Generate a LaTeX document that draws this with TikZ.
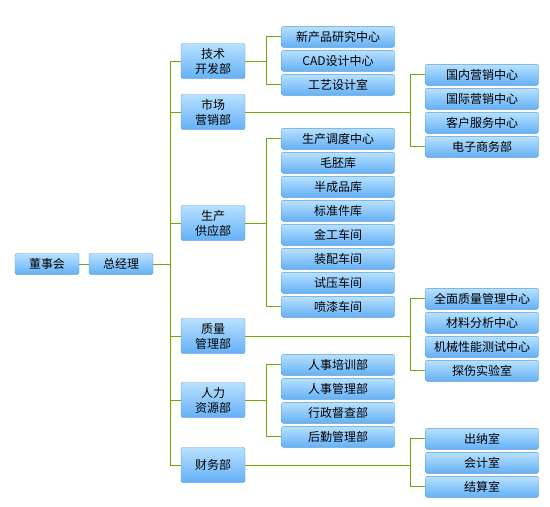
\documentclass[tikz,border=0pt]{standalone}
\usepackage{fontspec}
\newfontfamily\cjk{Noto Sans CJK SC}
\usepackage{tikz}
\usetikzlibrary{calc}
\usetikzlibrary{positioning}
\definecolor{boxtop}{HTML}{B8E1FF}
\definecolor{boxbot}{HTML}{63B0F6}
\definecolor{boxline}{HTML}{5A9BD5}
\definecolor{linkgreen}{HTML}{66B000}

\begin{document}
\begin{tikzpicture}
	[x=1pt, y=-1pt,
	box/.style = {draw=boxline, rounded corners=2pt, top color=boxtop, bottom color=boxbot, inner sep=0pt, align=center, minimum height=21pt, font=\cjk\fontsize{12}{15}\selectfont},
	top/.style = {box, minimum width=64pt},
	dept/.style = {box, minimum width=64pt, minimum height=35pt},
	unit/.style = {box, minimum width=113pt},
	link/.style = {draw=linkgreen, line width=1pt}
	]
	\useasboundingbox (0,0) rectangle (550,507);
	\coordinate (trunk) at (170,0);
	\coordinate (busA) at (266,0);
	\coordinate (busB) at (410,0);

	% left
	\node[top] (board) at (47,264) {董事会};
	\node[top] (gm) at (121,264) {总经理};

	% departments
	\node[dept] (tech) at (213,61) {技术\\开发部};
	\node[dept] (mkt) at (213,112) {市场\\营销部};
	\node[dept] (prod) at (213,223) {生产\\供应部};
	\node[dept] (qual) at (213,336) {质量\\管理部};
	\node[dept] (hr) at (213,400) {人力\\资源部};
	\node[dept] (fin) at (213,465) {财务部};

	% column A
	\node[unit] (t1) at (338,36.8) {新产品研究中心};
	\node[unit] (t2) at (338,60.8) {CAD设计中心};
	\node[unit] (t3) at (338,84.8) {工艺设计室};
	\node[unit] (p1) at (338,138.8) {生产调度中心};
	\node[unit] (p2) at (338,162.8) {毛胚库};
	\node[unit] (p3) at (338,186.8) {半成品库};
	\node[unit] (p4) at (338,210.8) {标准件库};
	\node[unit] (p5) at (338,234.8) {金工车间};
	\node[unit] (p6) at (338,258.8) {装配车间};
	\node[unit] (p7) at (338,282.8) {试压车间};
	\node[unit] (p8) at (338,306.8) {喷漆车间};
	\node[unit] (h1) at (338,364.8) {人事培训部};
	\node[unit] (h2) at (338,388.8) {人事管理部};
	\node[unit] (h3) at (338,412.8) {行政督查部};
	\node[unit] (h4) at (338,436.8) {后勤管理部};

	% column B
	\node[unit] (m1) at (482,74.8) {国内营销中心};
	\node[unit] (m2) at (482,98.8) {国际营销中心};
	\node[unit] (m3) at (482,122.8) {客户服务中心};
	\node[unit] (m4) at (482,146.8) {电子商务部};
	\node[unit] (q1) at (482,298.8) {全面质量管理中心};
	\node[unit] (q2) at (482,322.8) {材料分析中心};
	\node[unit] (q3) at (482,346.8) {机械性能测试中心};
	\node[unit] (q4) at (482,370.8) {探伤实验室};
	\node[unit] (f1) at (482,438.8) {出纳室};
	\node[unit] (f2) at (482,462.8) {会计室};
	\node[unit] (f3) at (482,486.8) {结算室};

	% links
	\draw[link] (board) -- (gm);
	\draw[link] (gm.east) -- (gm.east -| trunk);
	\draw[link] (tech.west) -| (trunk |- fin.west) -- (fin.west);
	\draw[link] (trunk |- mkt.west) -- (mkt.west);
	\draw[link] (trunk |- prod.west) -- (prod.west);
	\draw[link] (trunk |- qual.west) -- (qual.west);
	\draw[link] (trunk |- hr.west) -- (hr.west);

	\draw[link] (tech.east) -- (tech.east -| busA);
	\draw[link] (t1.west) -| (busA |- t3.west) -- (t3.west);
	\draw[link] (prod.east) -- (prod.east -| busA);
	\draw[link] (p1.west) -| (busA |- p8.west) -- (p8.west);
	\draw[link] (hr.east) -- (hr.east -| busA);
	\draw[link] (h1.west) -| (busA |- h4.west) -- (h4.west);

	\draw[link] (mkt.east) -- (mkt.east -| busB);
	\draw[link] (m1.west) -| (busB |- m4.west) -- (m4.west);
	\draw[link] (qual.east) -- (qual.east -| busB);
	\draw[link] (q1.west) -| (busB |- q4.west) -- (q4.west);
	\draw[link] (fin.east) -- (fin.east -| busB);
	\draw[link] (f1.west) -| (busB |- f3.west) -- (f3.west);
\end{tikzpicture}
\end{document}
